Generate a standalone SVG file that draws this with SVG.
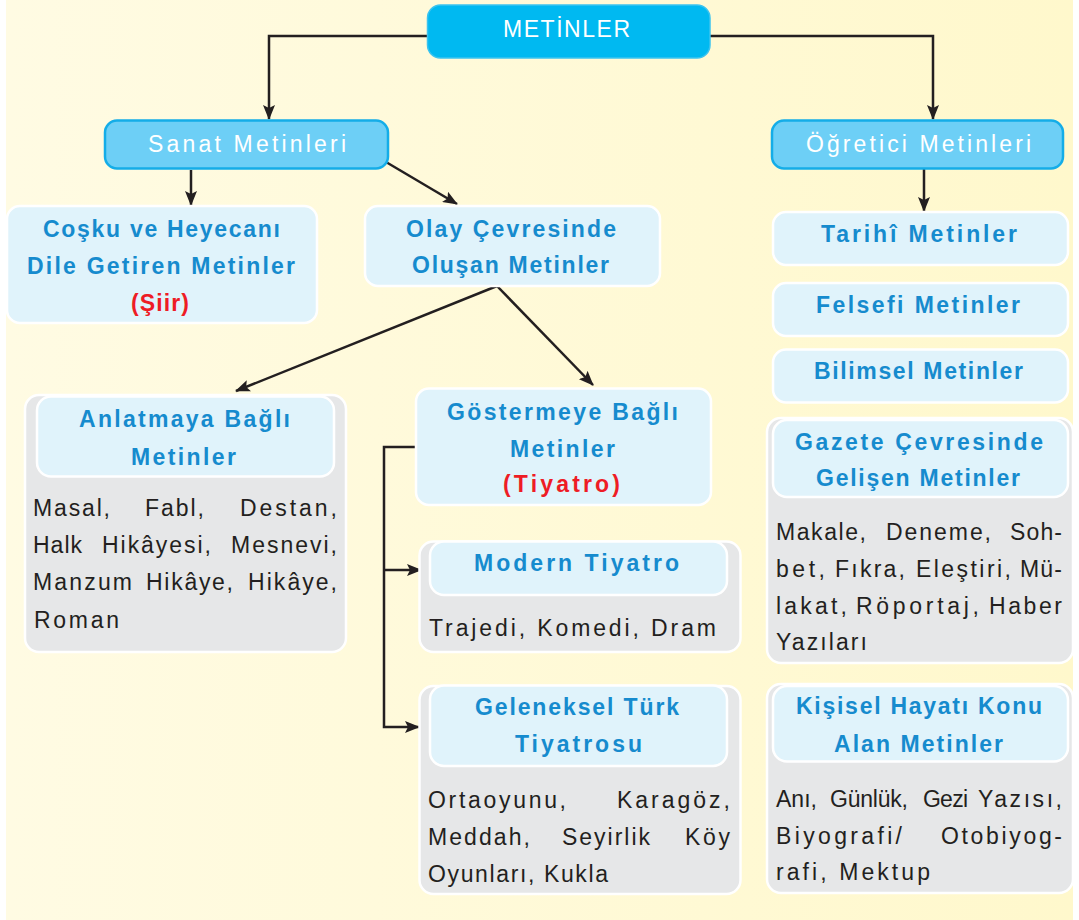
<svg xmlns="http://www.w3.org/2000/svg" width="1079" height="920" viewBox="0 0 1079 920">
<defs>
<linearGradient id="bg" x1="0" y1="0" x2="1" y2="0">
<stop offset="0" stop-color="#FFFBE3"/>
<stop offset="1" stop-color="#FFF8CC"/>
</linearGradient>
<marker id="arr" viewBox="0 0 15 12" markerUnits="userSpaceOnUse" markerWidth="15" markerHeight="12" refX="14" refY="6" orient="auto">
<path d="M0,0 L15,6 L0,12 L3,6 z" fill="#231F20"/>
</marker>
<style>
.title{fill:#00B9F1;stroke:#3BC3EF;stroke-width:1.5}
.mid{fill:#6DCFF6;stroke:#14ADE8;stroke-width:2.5}
.lb{fill:#E0F3FB;stroke:#FFFFFF;stroke-width:2.5}
.gr{fill:#E6E7E8;stroke:#FFFFFF;stroke-width:2.5}
.wt{font-family:"Liberation Sans",Arial,sans-serif;font-size:23px;fill:#FFFFFF}
.hd{font-family:"Liberation Sans",Arial,sans-serif;font-size:23px;font-weight:bold;fill:#168BCE}
.rd{font-family:"Liberation Sans",Arial,sans-serif;font-size:23px;font-weight:bold;fill:#EE1C25}
.bd{font-family:"Liberation Sans",Arial,sans-serif;font-size:23px;fill:#231F20}
.cn{fill:none;stroke:#231F20;stroke-width:2.5}
</style>
</defs>
<rect x="0" y="0" width="1079" height="920" fill="#FFFFFF"/>
<rect x="6" y="0" width="1067" height="920" fill="url(#bg)"/>

<g id="connectors">
<path class="cn" d="M427,36 H269 V119" marker-end="url(#arr)"/>
<path class="cn" d="M710,36 H933 V119" marker-end="url(#arr)"/>
<path class="cn" d="M191,170 V205" marker-end="url(#arr)"/>
<path class="cn" d="M386,162 L457,204" marker-end="url(#arr)"/>
<path class="cn" d="M924,169 V211" marker-end="url(#arr)"/>
<path class="cn" d="M497,286 L236,391" marker-end="url(#arr)"/>
<path class="cn" d="M497,286 L593,385" marker-end="url(#arr)"/>
<path class="cn" d="M416,447 H384 V727 H419" marker-end="url(#arr)"/>
<path class="cn" d="M384,570 H421" marker-end="url(#arr)"/>
</g>

<g id="metinler">
<rect class="title" x="427.5" y="5" width="282.5" height="53" rx="13"/>
<text class="wt" x="503" y="36.5" font-size="24" textLength="127">METİNLER</text>
</g>

<g id="sanat">
<rect class="mid" x="105" y="120.5" width="283" height="48" rx="12"/>
<text class="wt" x="148" y="152" textLength="198">Sanat Metinleri</text>
</g>

<g id="ogretici">
<rect class="mid" x="772" y="120.5" width="291" height="48" rx="12"/>
<text class="wt" x="806" y="152" textLength="225">Öğretici Metinleri</text>
</g>

<g id="cosku">
<rect class="lb" x="7" y="206" width="310" height="117" rx="13"/>
<text class="hd" x="43" y="237" textLength="237">Coşku ve Heyecanı</text>
<text class="hd" x="27" y="274" textLength="268">Dile Getiren Metinler</text>
<text class="rd" x="131" y="311" textLength="58">(Şiir)</text>
</g>

<g id="olay">
<rect class="lb" x="365" y="206" width="295" height="80" rx="13"/>
<text class="hd" x="406" y="236.5" textLength="210">Olay Çevresinde</text>
<text class="hd" x="412" y="273" textLength="197">Oluşan Metinler</text>
</g>

<g id="anlatmaya">
<rect class="gr" x="25" y="395" width="321" height="257" rx="14"/>
<rect class="lb" x="37" y="396.5" width="297" height="80" rx="14"/>
<text class="hd" x="79" y="427" textLength="211">Anlatmaya Bağlı</text>
<text class="hd" x="131" y="465" textLength="105">Metinler</text>
<text class="bd" x="33" y="516" textLength="77">Masal,</text>
<text class="bd" x="145" y="516" textLength="59">Fabl,</text>
<text class="bd" x="240" y="516" textLength="97">Destan,</text>
<text class="bd" x="33" y="553" textLength="49">Halk</text>
<text class="bd" x="102" y="553" textLength="109">Hikâyesi,</text>
<text class="bd" x="231" y="553" textLength="106">Mesnevi,</text>
<text class="bd" x="33" y="590" textLength="99">Manzum</text>
<text class="bd" x="146" y="590" textLength="87">Hikâye,</text>
<text class="bd" x="248" y="590" textLength="89">Hikâye,</text>
<text class="bd" x="34" y="628" textLength="85">Roman</text>
</g>

<g id="gostermeye">
<rect class="lb" x="416" y="388.5" width="295" height="116.5" rx="13"/>
<text class="hd" x="447" y="419.5" textLength="231">Göstermeye Bağlı</text>
<text class="hd" x="510" y="457" textLength="105">Metinler</text>
<text class="rd" x="503" y="492" textLength="117">(Tiyatro)</text>
</g>

<g id="modern">
<rect class="gr" x="419.5" y="541.5" width="321" height="110.5" rx="14"/>
<rect class="lb" x="430" y="541.5" width="297" height="53.5" rx="14"/>
<text class="hd" x="474" y="571" textLength="205">Modern Tiyatro</text>
<text class="bd" x="429" y="636" textLength="287">Trajedi, Komedi, Dram</text>
</g>

<g id="geleneksel">
<rect class="gr" x="419.5" y="686" width="321" height="208" rx="14"/>
<rect class="lb" x="430" y="685.5" width="297" height="80.5" rx="14"/>
<text class="hd" x="475" y="715" textLength="204">Geleneksel Türk</text>
<text class="hd" x="515" y="752" textLength="127">Tiyatrosu</text>
<text class="bd" x="428" y="807.5" textLength="138">Ortaoyunu,</text>
<text class="bd" x="617" y="807.5" textLength="113">Karagöz,</text>
<text class="bd" x="428" y="845" textLength="102">Meddah,</text>
<text class="bd" x="562" y="845" textLength="88">Seyirlik</text>
<text class="bd" x="685" y="845" textLength="45">Köy</text>
<text class="bd" x="428" y="882" textLength="180">Oyunları, Kukla</text>
</g>

<g id="tarihi">
<rect class="lb" x="773" y="212" width="295" height="53" rx="13"/>
<text class="hd" x="821" y="242" textLength="196">Tarihî Metinler</text>
</g>

<g id="felsefi">
<rect class="lb" x="773" y="283" width="295" height="53" rx="13"/>
<text class="hd" x="816" y="313" textLength="204">Felsefi Metinler</text>
</g>

<g id="bilimsel">
<rect class="lb" x="773" y="349.5" width="295" height="53" rx="13"/>
<text class="hd" x="814" y="378.5" textLength="209">Bilimsel Metinler</text>
</g>

<g id="gazete">
<rect class="gr" x="767" y="418" width="306" height="245" rx="14"/>
<rect class="lb" x="773" y="420" width="295" height="77" rx="14"/>
<text class="hd" x="795" y="449.5" textLength="248">Gazete Çevresinde</text>
<text class="hd" x="816" y="486" textLength="204">Gelişen Metinler</text>
<text class="bd" x="776" y="539.5" textLength="90">Makale,</text>
<text class="bd" x="886" y="539.5" textLength="105">Deneme,</text>
<text class="bd" x="1010" y="539.5" textLength="52">Soh-</text>
<text class="bd" x="776" y="577" textLength="49">bet,</text>
<text class="bd" x="835" y="577" textLength="70">Fıkra,</text>
<text class="bd" x="916" y="577" textLength="95">Eleştiri,</text>
<text class="bd" x="1020" y="577" textLength="42">Mü-</text>
<text class="bd" x="776" y="613.5" textLength="71">lakat,</text>
<text class="bd" x="856" y="613.5" textLength="123">Röportaj,</text>
<text class="bd" x="989" y="613.5" textLength="73">Haber</text>
<text class="bd" x="776" y="650" textLength="91">Yazıları</text>
</g>

<g id="kisisel">
<rect class="gr" x="767" y="684" width="306" height="209" rx="14"/>
<rect class="lb" x="773" y="686" width="295" height="75.5" rx="14"/>
<text class="hd" x="796" y="713.5" textLength="246">Kişisel Hayatı Konu</text>
<text class="hd" x="834" y="752" textLength="169">Alan Metinler</text>
<text class="bd" x="776" y="807" textLength="41">Anı,</text>
<text class="bd" x="830" y="807" textLength="78">Günlük,</text>
<text class="bd" x="923" y="807" textLength="45">Gezi</text>
<text class="bd" x="978" y="807" textLength="84">Yazısı,</text>
<text class="bd" x="776" y="843.5" textLength="126">Biyografi/</text>
<text class="bd" x="941" y="843.5" textLength="121">Otobiyog-</text>
<text class="bd" x="776" y="880" textLength="154">rafi, Mektup</text>
</g>
</svg>
